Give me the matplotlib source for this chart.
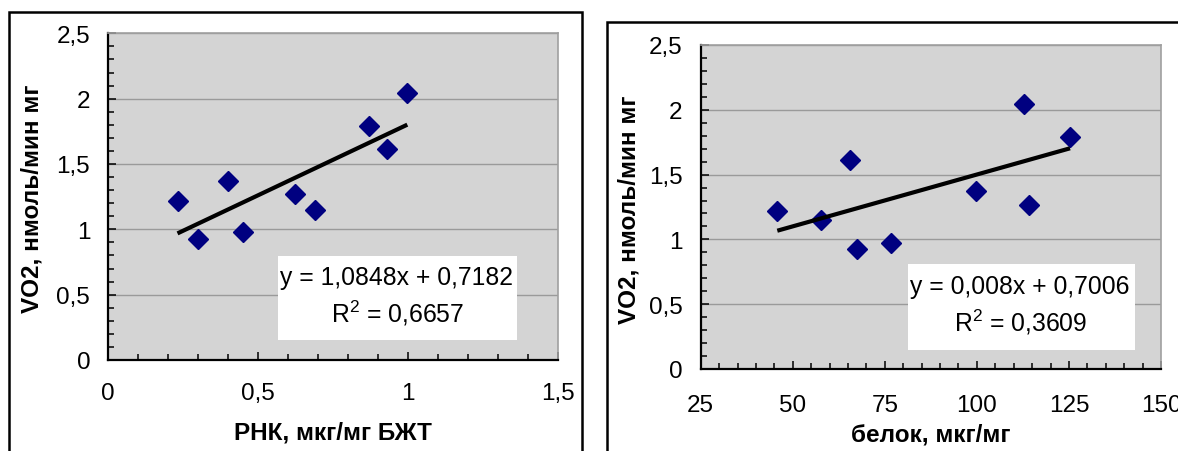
import matplotlib
matplotlib.use("Agg")
import matplotlib.pyplot as plt
from matplotlib.patches import Rectangle
from matplotlib.ticker import MultipleLocator, FixedLocator, FixedFormatter
import numpy as np

# ---- data ----
vo2 = [1.217, 0.925, 1.370, 0.976, 1.268, 1.148, 1.787, 1.613, 2.043]
rna = [0.231, 0.300, 0.399, 0.449, 0.623, 0.691, 0.870, 0.930, 0.998]
protein = [45.8, 67.5, 99.8, 76.8, 114.1, 57.7, 125.3, 65.6, 112.7]

slope_rna, intercept_rna = 1.0848, 0.7182
r2_rna = "0,6657"
slope_prot, intercept_prot = 0.008, 0.7006
r2_prot = "0,3609"

left_xticks = [0, 0.5, 1, 1.5]
left_xlabels = ["0", "0,5", "1", "1,5"]
right_xticks = [25, 50, 75, 100, 125, 150]
right_xlabels = ["25", "50", "75", "100", "125", "150"]
yticks = [0, 0.5, 1, 1.5, 2, 2.5]
ylabels = ["0", "0,5", "1", "1,5", "2", "2,5"]

ylabel_text = "VO2, нмоль/мин мг"
left_xlabel_text = "РНК, мкг/мг БЖТ"
right_xlabel_text = "белок, мкг/мг"
left_eq = "y = 1,0848x + 0,7182"
right_eq = "y = 0,008x + 0,7006"

plt.rcParams['font.family'] = ['Liberation Sans', 'DejaVu Sans']
plt.rcParams['mathtext.fontset'] = 'custom'
plt.rcParams['mathtext.rm'] = 'Liberation Sans'
plt.rcParams['mathtext.it'] = 'Liberation Sans'
plt.rcParams['mathtext.bf'] = 'Liberation Sans:bold'

W, H = 1178, 452
fig = plt.figure(figsize=(W / 100, H / 100), dpi=100)
fig.patch.set_facecolor("white")


def px(x0, y0, x1, y1):
    """pixel box (top-left origin) -> figure fraction rect"""
    return [x0 / W, (H - y1) / H, (x1 - x0) / W, (y1 - y0) / H]


# outer frames of the two chart objects
fig.patches.append(Rectangle((9.3 / W, -0.1), (581.7 - 9.3) / W, 1.1 - 12.7 / H,
                             transform=fig.transFigure, fill=False,
                             edgecolor="black", linewidth=1.8))
fig.patches.append(Rectangle((606.7 / W, -0.1), 1.2, 1.1 - 22.7 / H,
                             transform=fig.transFigure, fill=False,
                             edgecolor="black", linewidth=1.8))

ax1 = fig.add_axes(px(108.3, 34.3, 557.7, 361))
ax2 = fig.add_axes(px(700.7, 46, 1161, 370))

TICK_FS = 17.5
LAB_FS = 17.5
EQ_FS = 17.8


def style(ax, xlim, xticks, xlabels, xminor, xpad):
    ax.set_facecolor("#d4d4d4")
    ax.set_xlim(*xlim)
    ax.set_ylim(0, 2.5)
    ax.xaxis.set_major_locator(FixedLocator(xticks))
    ax.xaxis.set_major_formatter(FixedFormatter(xlabels))
    ax.yaxis.set_major_locator(FixedLocator(yticks))
    ax.yaxis.set_major_formatter(FixedFormatter(ylabels))
    ax.xaxis.set_minor_locator(MultipleLocator(xminor))
    ax.yaxis.set_minor_locator(MultipleLocator(0.1))
    ax.tick_params(which="both", direction="in", width=1.1, color="black")
    ax.tick_params(which="major", length=6)
    ax.tick_params(which="minor", length=4)
    ax.tick_params(axis="x", which="major", labelsize=TICK_FS, pad=xpad)
    ax.tick_params(axis="y", which="major", labelsize=TICK_FS, pad=13)
    ax.grid(axis="y", which="major", color="#9a9a9a", linewidth=1.0)
    ax.set_axisbelow(True)
    for s in ("left", "bottom"):
        ax.spines[s].set_color("black")
        ax.spines[s].set_linewidth(1.6)
    for s in ("top", "right"):
        ax.spines[s].set_color("#a0a0a0")
        ax.spines[s].set_linewidth(1.2)


style(ax1, (0, 1.5), left_xticks, left_xlabels, 0.1, 16)
style(ax2, (25, 150), right_xticks, right_xlabels, 5, 18)

MARK = dict(marker="D", linestyle="none", color="#000080", markersize=10, zorder=3)

# left panel
ax1.plot(rna, vo2, **MARK)
xr = np.array([min(rna), max(rna)])
ax1.plot(xr, slope_rna * xr + intercept_rna, color="black", linewidth=3.0, zorder=4,
         solid_capstyle="butt")
ax1.add_patch(Rectangle((0.378, 0.062), 0.909 - 0.378, 0.317 - 0.062,
                        transform=ax1.transAxes, facecolor="white", edgecolor="none",
                        zorder=5))
ax1.text(0.642, 0.254, left_eq, transform=ax1.transAxes, ha="center", va="center",
         fontsize=EQ_FS, zorder=6)
ax1.text(0.642, 0.147, r"R$^{\mathrm{2}}$ = " + r2_rna, transform=ax1.transAxes,
         ha="center", va="center", fontsize=EQ_FS, zorder=6)

# right panel
ax2.plot(protein, vo2, **MARK)
xp = np.array([min(protein), max(protein)])
ax2.plot(xp, slope_prot * xp + intercept_prot, color="black", linewidth=3.0, zorder=4,
         solid_capstyle="butt")
ax2.add_patch(Rectangle((0.450, 0.059), 0.943 - 0.450, 0.324 - 0.059,
                        transform=ax2.transAxes, facecolor="white", edgecolor="none",
                        zorder=5))
ax2.text(0.694, 0.256, right_eq, transform=ax2.transAxes, ha="center", va="center",
         fontsize=EQ_FS, zorder=6)
ax2.text(0.694, 0.148, r"R$^{\mathrm{2}}$ = " + r2_prot, transform=ax2.transAxes,
         ha="center", va="center", fontsize=EQ_FS, zorder=6)

# axis titles
fig.text(32 / W, 1 - 199 / H, ylabel_text, rotation=90, ha="center", va="center",
         fontsize=LAB_FS, fontweight="bold")
fig.text(629 / W, 1 - 210 / H, ylabel_text, rotation=90, ha="center", va="center",
         fontsize=LAB_FS, fontweight="bold")
fig.text(333 / W, 1 - 433 / H, left_xlabel_text, ha="center", va="center",
         fontsize=LAB_FS, fontweight="bold")
fig.text(931 / W, 1 - 435 / H, right_xlabel_text, ha="center", va="center",
         fontsize=LAB_FS, fontweight="bold")

fig.savefig("out.png", dpi=100)
